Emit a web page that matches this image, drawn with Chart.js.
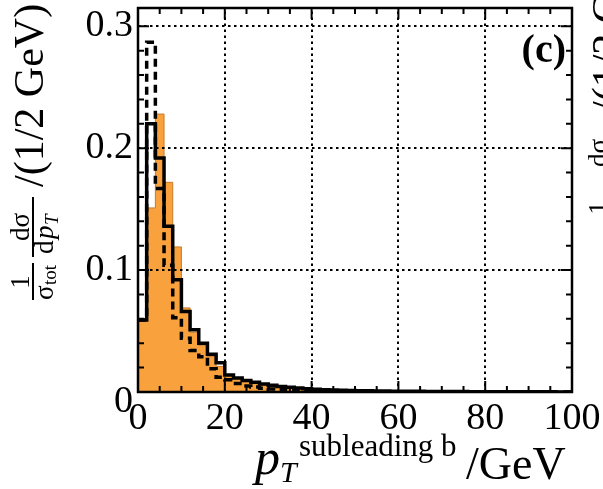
<!DOCTYPE html>
<html>
<head>
<meta charset="utf-8">
<script src="https://cdn.jsdelivr.net/npm/chart.js@4"></script>
<style>
  html, body { margin: 0; padding: 0; background: #fff; }
  canvas { display: block; }
</style>
</head>
<body>
<canvas id="chart" width="603" height="489"></canvas>
<script>
// 2 GeV bins from 0 to 100 GeV
const binWidth = 2;
const xTickLabels = [0, 20, 40, 60, 80, 100];
const yTickLabels = [0, 0.1, 0.2, 0.3];

// filled (orange) histogram
const filledValues = [
  0.059, 0.151, 0.228, 0.172, 0.119, 0.069, 0.049, 0.038, 0.029, 0.021,
  0.0135, 0.011, 0.0085, 0.007, 0.0055, 0.0048, 0.0038, 0.003, 0.0025, 0.002,
  0.0015, 0.0012, 0.001, 0.0008, 0.0007, 0.0006, 0.0005, 0.0004, 0.0004, 0.0003,
  0.0003, 0.0002, 0.0002, 0.0002, 0.0001, 0.0001, 0.0001, 0.0001, 0.0001, 0.0001,
  0.0001, 0, 0, 0, 0, 0, 0, 0, 0, 0
];
// solid black line
const solidValues = [
  0.059, 0.220, 0.192, 0.136, 0.092, 0.066, 0.051, 0.040, 0.031, 0.024,
  0.014, 0.0115, 0.0095, 0.008, 0.0065, 0.0055, 0.0045, 0.0038, 0.0032, 0.0027,
  0.0022, 0.0019, 0.0016, 0.0014, 0.0012, 0.0011, 0.001, 0.0009, 0.0008, 0.0007,
  0.0007, 0.0006, 0.0006, 0.0005, 0.0005, 0.0004, 0.0004, 0.0004, 0.0003, 0.0003,
  0.0003, 0.0003, 0.0002, 0.0002, 0.0002, 0.0002, 0.0002, 0.0002, 0.0001, 0.0001
];
// dashed black line
const dashedValues = [
  0.059, 0.287, 0.167, 0.104, 0.061, 0.044, 0.034, 0.029, 0.019, 0.012,
  0.010, 0.007, 0.005, 0.004, 0.003, 0.0025, 0.002, 0.0016, 0.0013, 0.001,
  0.0009, 0.0008, 0.0007, 0.0006, 0.0005, 0.0005, 0.0004, 0.0004, 0.0003, 0.0003,
  0.0003, 0.0002, 0.0002, 0.0002, 0.0002, 0.0001, 0.0001, 0.0001, 0.0001, 0.0001,
  0.0001, 0.0001, 0.0001, 0, 0, 0, 0, 0, 0, 0
];

const serif = "'Liberation Serif', 'Times New Roman', serif";

// one point per lower bin edge plus the closing edge; stepped 'before' holds each value over its bin
function stepPoints(values) {
  let pts = values.map(function(v, i) { return {x: i * binWidth, y: v}; });
  pts.push({x: values.length * binWidth, y: values[values.length - 1]});
  return pts;
}

// dotted grid, drawn right after the orange fill so it sits over it
const gridOverFill = {
  id: 'gridOverFill',
  afterDatasetDraw(chart, args) {
    if (chart.data.datasets[args.index].label !== 'filled') return;
    const ctx = chart.ctx, a = chart.chartArea;
    const xs = chart.scales.x, ys = chart.scales.y;
    ctx.save();
    ctx.strokeStyle = '#000';
    ctx.lineWidth = 2;
    ctx.setLineDash([2.5, 3.5]);
    xTickLabels.forEach(function(v) {
      if (v <= xs.min || v >= xs.max) return;
      const px = Math.round(xs.getPixelForValue(v));
      ctx.beginPath(); ctx.moveTo(px, a.bottom); ctx.lineTo(px, a.top); ctx.stroke();
    });
    yTickLabels.forEach(function(v) {
      if (v <= ys.min || v >= ys.max) return;
      const py = Math.round(ys.getPixelForValue(v));
      ctx.beginPath(); ctx.moveTo(a.left, py); ctx.lineTo(a.right, py); ctx.stroke();
    });
    ctx.restore();
  }
};

// frame with inward major/minor ticks on all four sides
const frameTicks = {
  id: 'frameTicks',
  afterDatasetsDraw(chart) {
    const ctx = chart.ctx, a = chart.chartArea;
    const xs = chart.scales.x, ys = chart.scales.y;
    ctx.save();
    ctx.strokeStyle = '#000';
    ctx.lineWidth = 2;
    ctx.beginPath();
    for (let k = 0; k <= 20; k++) {
      const v = k * 5;
      const len = xTickLabels.includes(v) ? 11 : 6;
      const px = xs.getPixelForValue(v);
      ctx.moveTo(px, a.bottom); ctx.lineTo(px, a.bottom - len);
      ctx.moveTo(px, a.top); ctx.lineTo(px, a.top + len);
    }
    for (let k = 0; k <= 15; k++) {
      const v = k * 0.02;
      const len = (k % 5 === 0) ? 11 : 6;
      const py = ys.getPixelForValue(v);
      ctx.moveTo(a.left, py); ctx.lineTo(a.left + len, py);
      ctx.moveTo(a.right, py); ctx.lineTo(a.right - len, py);
    }
    ctx.stroke();
    ctx.lineWidth = 2.5;
    ctx.strokeRect(a.left, a.top, a.right - a.left, a.bottom - a.top);
    ctx.restore();
  }
};

function drawYTitle(ctx, x0, y0) {
  ctx.save();
  ctx.translate(x0, y0);
  ctx.rotate(-Math.PI / 2);
  ctx.fillStyle = '#000';
  ctx.textBaseline = 'alphabetic';
  // 1 / sigma_tot
  ctx.font = '27px ' + serif;
  ctx.textAlign = 'center';
  ctx.fillText('1', 18, -4);
  ctx.fillRect(0, -1, 37, 2);
  ctx.textAlign = 'left';
  ctx.fillText('σ', 0, 20);
  ctx.font = '19px ' + serif;
  ctx.fillText('tot', 15, 23);
  // d sigma / d p_T
  ctx.font = '27px ' + serif;
  ctx.textAlign = 'center';
  ctx.fillText('dσ', 73, -4);
  ctx.fillRect(43, -1, 60, 2);
  ctx.textAlign = 'left';
  ctx.fillText('d', 46, 20);
  ctx.font = 'italic 27px ' + serif;
  ctx.fillText('p', 61, 20);
  ctx.font = 'italic 19px ' + serif;
  ctx.fillText('T', 75, 25);
  // per bin
  ctx.font = '42px ' + serif;
  ctx.fillText('/(1/2 GeV)', 113, 10);
  ctx.restore();
}

const axisTitles = {
  id: 'axisTitles',
  afterDraw(chart) {
    const ctx = chart.ctx;
    ctx.save();
    ctx.fillStyle = '#000';
    ctx.textBaseline = 'alphabetic';
    ctx.textAlign = 'left';
    // x title: p_T^{subleading b} /GeV
    ctx.font = 'italic 50px ' + serif;
    ctx.fillText('p', 255, 474);
    ctx.font = 'italic 30px ' + serif;
    ctx.fillText('T', 280, 482);
    ctx.font = '31px ' + serif;
    ctx.fillText('subleading b', 299, 456);
    ctx.font = '46px ' + serif;
    ctx.fillText('/GeV', 466, 479);
    // panel label
    ctx.font = 'bold 40px ' + serif;
    ctx.textAlign = 'right';
    ctx.fillText('(c)', 566, 62);
    ctx.restore();
    drawYTitle(ctx, 33, 300);
    // neighbouring panel's title, cut by the edge
    drawYTitle(ctx, 611, 226);
  }
};

new Chart(document.getElementById('chart'), {
  type: 'line',
  data: {
    datasets: [
      {
        label: 'solid',
        data: stepPoints(solidValues),
        stepped: 'before',
        borderColor: '#000',
        borderWidth: 3.5,
        pointRadius: 0,
        fill: false,
        order: 1
      },
      {
        label: 'dashed',
        data: stepPoints(dashedValues),
        stepped: 'before',
        borderColor: '#000',
        borderWidth: 3.5,
        borderDash: [8, 5],
        pointRadius: 0,
        fill: false,
        order: 2
      },
      {
        label: 'filled',
        data: stepPoints(filledValues),
        stepped: 'before',
        borderColor: '#c97a28',
        borderWidth: 1,
        backgroundColor: '#f9a13c',
        pointRadius: 0,
        fill: 'origin',
        order: 3
      }
    ]
  },
  options: {
    responsive: false,
    animation: false,
    devicePixelRatio: 1,
    layout: { padding: { top: 8, right: 31, left: 0, bottom: 0 } },
    plugins: {
      legend: { display: false },
      tooltip: { enabled: false }
    },
    scales: {
      x: {
        type: 'linear',
        min: 0,
        max: 100,
        afterBuildTicks: function(scale) {
          scale.ticks = xTickLabels.map(function(v) { return {value: v}; });
        },
        afterFit: function(scale) {
          scale.height = 97;
          scale.paddingLeft = 0;
          scale.paddingRight = 0;
        },
        grid: { display: false, drawTicks: false },
        border: { display: false },
        ticks: {
          color: '#000',
          font: { family: serif, size: 38 },
          padding: 4,
          maxRotation: 0,
          autoSkip: false
        }
      },
      y: {
        type: 'linear',
        min: 0,
        max: 0.315,
        afterBuildTicks: function(scale) {
          scale.ticks = yTickLabels.map(function(v) { return {value: v}; });
        },
        afterFit: function(scale) {
          scale.width = 138;
          scale.paddingTop = 0;
          scale.paddingBottom = 0;
        },
        grid: { display: false, drawTicks: false },
        border: { display: false },
        ticks: {
          color: '#000',
          padding: 5,
          autoSkip: false,
          // the zero label sits a little lower, as in the original
          font: function(c) {
            if (c.tick && c.tick.value === 0) return { family: serif, size: 38, lineHeight: 0.55 };
            return { family: serif, size: 38 };
          },
          callback: function(v) { return v === 0 ? ['', '0'] : v.toFixed(1); }
        }
      }
    }
  },
  plugins: [gridOverFill, frameTicks, axisTitles]
});
</script>
</body>
</html>
